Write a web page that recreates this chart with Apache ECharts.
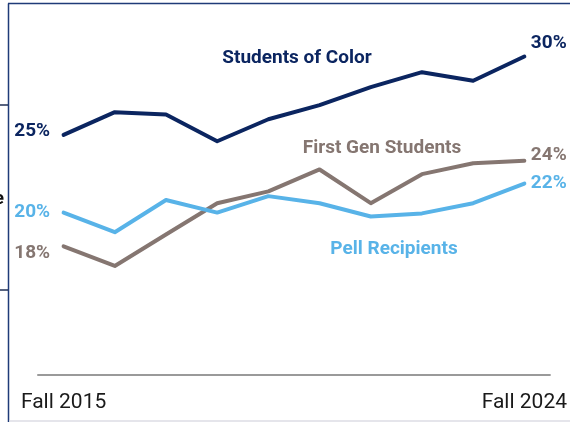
<!DOCTYPE html>
<html>
<head>
<meta charset="utf-8">
<script src="https://cdn.jsdelivr.net/npm/echarts@6/dist/echarts.min.js"></script>
<style>
  html, body { margin: 0; padding: 0; background: #fff; }
  #chart { width: 570px; height: 422px; }
</style>
</head>
<body>
<div id="chart"></div>
<script>
//terms on the x axis, only first and last are labelled
const terms = ['Fall 2015', 'Fall 2016', 'Fall 2017', 'Fall 2018', 'Fall 2019',
    'Fall 2020', 'Fall 2021', 'Fall 2022', 'Fall 2023', 'Fall 2024'];

//shares in percent
const studentsOfColor = [25.0, 26.45, 26.3, 24.6, 26.0, 26.9, 28.05, 29.0, 28.45, 30.0];
const firstGen = [17.9, 16.65, 18.65, 20.65, 21.4, 22.8, 20.65, 22.5, 23.2, 23.35];
const pell = [20.05, 18.8, 20.85, 20.05, 21.1, 20.65, 19.8, 20.0, 20.65, 21.9];

//text at the start and end of each line
const colorEnds = ['25%', '30%'];
const firstGenEnds = ['18%', '24%'];
const pellEnds = ['20%', '22%'];

const NAVY = '#0b2560';
const BROWN = '#857671';
const BLUE = '#58b3e8';
const FONT = 'Roboto';

function withEndLabels(values, ends, colour, startOffset, endOffset) {
    const last = values.length - 1;
    return values.map((v, i) => {
        if (i === 0) {
            return { value: v, label: { show: true, position: 'left', distance: 13, offset: startOffset, formatter: ends[0], color: colour } };
        }
        if (i === last) {
            return { value: v, label: { show: true, position: 'right', distance: 6, offset: endOffset, formatter: ends[1], color: colour } };
        }
        return v;
    });
}

function makeSeries(name, values, ends, colour, startOffset, endOffset) {
    return {
        name: name,
        type: 'line',
        data: withEndLabels(values, ends, colour, startOffset, endOffset),
        symbol: 'circle',
        symbolSize: 1,
        itemStyle: { color: colour },
        lineStyle: { color: colour, width: 4, cap: 'round', join: 'round' },
        label: { fontFamily: FONT, fontWeight: 'bold', fontSize: 19 },
        emphasis: { disabled: true }
    };
}

const chart = echarts.init(document.getElementById('chart'));

const option = {
    animation: false,
    grid: { left: 38, right: 20, top: 0, bottom: 47 },
    xAxis: {
        type: 'category',
        data: terms,
        boundaryGap: true,
        axisTick: { show: false },
        axisLine: { lineStyle: { color: '#9a9a9a', width: 2 } },
        axisLabel: {
            interval: (i) => i === 0 || i === terms.length - 1,
            margin: 17,
            color: '#1a1a1a',
            fontFamily: FONT,
            fontSize: 21
        }
    },
    yAxis: {
        type: 'value',
        min: 9.7,
        max: 33.6,
        show: false,
        splitLine: { show: false }
    },
    series: [
        makeSeries('Students of Color', studentsOfColor, colorEnds, NAVY, [0, -4], [0, -13]),
        makeSeries('First Gen Students', firstGen, firstGenEnds, BROWN, [0, 7], [0, -6]),
        makeSeries('Pell Recipients', pell, pellEnds, BLUE, [0, 0], [0, 0])
    ],
    graphic: [
        //frame of the panel
        { type: 'line', shape: { x1: 8.5, y1: 3.5, x2: 8.5, y2: 422 }, style: { stroke: '#1f3b78', lineWidth: 1.5 } },
        { type: 'line', shape: { x1: 8, y1: 3.5, x2: 570, y2: 3.5 }, style: { stroke: '#1f3b78', lineWidth: 1.5 } },
        { type: 'line', shape: { x1: 9, y1: 421, x2: 570, y2: 421 }, style: { stroke: '#dcdce4', lineWidth: 1.5 } },
        //bits of the neighbouring panel
        { type: 'line', shape: { x1: 0, y1: 105, x2: 8, y2: 105 }, style: { stroke: '#1f2f55', lineWidth: 1.5 } },
        { type: 'line', shape: { x1: 0, y1: 290, x2: 8, y2: 290 }, style: { stroke: '#1f2f55', lineWidth: 1.5 } },
        { type: 'text', x: 4, y: 199, style: { text: 'e', fill: '#111', font: 'bold 19px Roboto', align: 'right', verticalAlign: 'middle' } },
        //series names
        { type: 'text', x: 297, y: 58, style: { text: 'Students of Color', fill: NAVY, font: 'bold 19px Roboto', align: 'center', verticalAlign: 'middle' } },
        { type: 'text', x: 382, y: 148, style: { text: 'First Gen Students', fill: BROWN, font: 'bold 19px Roboto', align: 'center', verticalAlign: 'middle' } },
        { type: 'text', x: 394, y: 249, style: { text: 'Pell Recipients', fill: BLUE, font: 'bold 19px Roboto', align: 'center', verticalAlign: 'middle' } }
    ]
};

chart.setOption(option);
window.addEventListener('resize', () => { chart.resize(); });
</script>
</body>
</html>
